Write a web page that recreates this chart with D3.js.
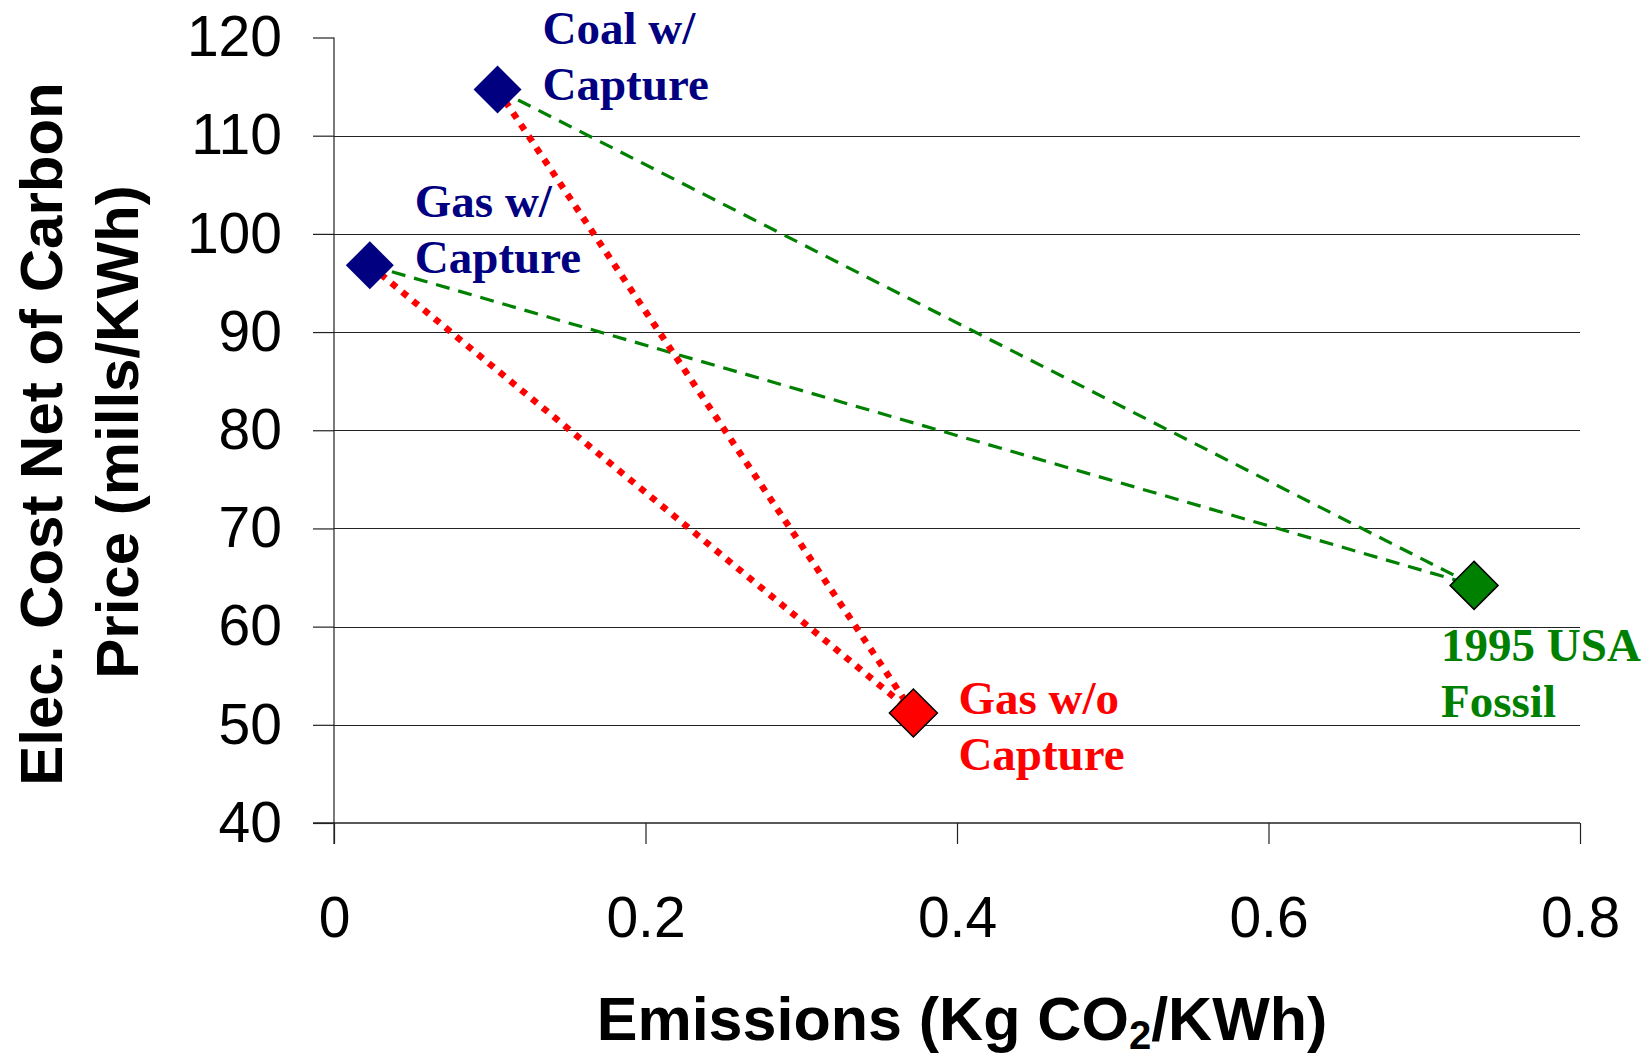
<!DOCTYPE html>
<html>
<head>
<meta charset="utf-8">
<script src="https://cdn.jsdelivr.net/npm/d3@7"></script>
<style>
  body { margin: 0; background: #fff; }
  svg { display: block; }
</style>
</head>
<body>
<div id="chart"></div>
<script>
// chart values
var names = ["Coal w/ Capture", "Gas w/ Capture", "Gas w/o Capture", "1995 USA Fossil"];
var emissions = [0.105, 0.023, 0.372, 0.732];   // Kg CO2/KWh
var costs = [114.7, 96.8, 51.2, 64.2];          // mills/KWh
var labelLines = [["Coal w/", "Capture"], ["Gas w/", "Capture"], ["Gas w/o", "Capture"], ["1995 USA", "Fossil"]];
var fills = ["#000080", "#000080", "#ff0000", "#008000"];
// red dotted links and green dashed links (index pairs)
var redLinks = [[1, 2], [0, 2]];
var greenLinks = [[0, 3], [1, 3]];
var xTicks = [0, 0.2, 0.4, 0.6, 0.8];
var yTicks = [40, 50, 60, 70, 80, 90, 100, 110, 120];

var svgWidth = 1652;
var svgHeight = 1060;

var svg = d3.select("#chart")
    .append("svg")
    .attr("width", svgWidth)
    .attr("height", svgHeight);

var x = d3.scaleLinear().domain([0, 0.8]).range([334, 1580]);
var y = d3.scaleLinear().domain([40, 120]).range([823, 37.5]);

// gridlines
svg.append("g")
    .selectAll("line")
    .data(yTicks.filter(d => d > 40 && d < 120))
    .enter()
    .append("line")
    .attr("x1", x(0))
    .attr("x2", x(0.8))
    .attr("y1", d => Math.round(y(d)) + 0.5)
    .attr("y2", d => Math.round(y(d)) + 0.5)
    .attr("stroke", "#222")
    .attr("stroke-width", 1.2);

// axes
var leftAxis = d3.axisLeft(y).tickValues(yTicks).tickSize(21).tickPadding(31).tickFormat(d3.format("d"));
var bottomAxis = d3.axisBottom(x).tickValues(xTicks).tickSize(21).tickPadding(53).tickFormat(d => d === 0 ? "0" : d3.format(".1f")(d));

var gy = svg.append("g")
    .attr("transform", `translate(${x(0)},0)`)
    .call(leftAxis);
var gx = svg.append("g")
    .attr("transform", `translate(0,${y(40)})`)
    .call(bottomAxis);

[gx, gy].forEach(g => {
    g.select(".domain").remove();
    g.selectAll(".tick line").attr("stroke", "#222").attr("stroke-width", 1.2);
    g.selectAll("text")
        .attr("fill", "#000")
        .style("font-family", "Liberation Sans, Arial, sans-serif")
        .style("font-size", "57px");
});

// axis lines
svg.append("line")
    .attr("x1", x(0)).attr("x2", x(0))
    .attr("y1", y(120)).attr("y2", y(40) + 21)
    .attr("stroke", "#222").attr("stroke-width", 1.2);
svg.append("line")
    .attr("x1", x(0) - 21).attr("x2", x(0.8))
    .attr("y1", y(40)).attr("y2", y(40))
    .attr("stroke", "#222").attr("stroke-width", 1.5);

// connecting lines
svg.append("g")
    .selectAll("line")
    .data(greenLinks)
    .enter()
    .append("line")
    .attr("x1", d => x(emissions[d[0]]))
    .attr("y1", d => y(costs[d[0]]))
    .attr("x2", d => x(emissions[d[1]]))
    .attr("y2", d => y(costs[d[1]]))
    .attr("stroke", "#008000")
    .attr("stroke-width", 3.2)
    .attr("stroke-dasharray", "14,9");

svg.append("g")
    .selectAll("line")
    .data(redLinks)
    .enter()
    .append("line")
    .attr("x1", d => x(emissions[d[0]]))
    .attr("y1", d => y(costs[d[0]]))
    .attr("x2", d => x(emissions[d[1]]))
    .attr("y2", d => y(costs[d[1]]))
    .attr("stroke", "#ff0000")
    .attr("stroke-width", 6.5)
    .attr("stroke-dasharray", "6.5,7.5");

// diamond markers
var r = 24;
svg.append("g")
    .selectAll("path")
    .data(names)
    .enter()
    .append("path")
    .attr("d", `M0,${-r}L${r},0L0,${r}L${-r},0Z`)
    .attr("transform", (d, i) => `translate(${x(emissions[i])},${y(costs[i])})`)
    .attr("fill", (d, i) => fills[i])
    .attr("stroke", (d, i) => i < 2 ? fills[i] : "#000")
    .attr("stroke-width", (d, i) => i < 2 ? 0 : 1.5);

// point labels
var labelOffsets = [[45, -46], [45, -48], [45, 1], [-33, 76]];
labelLines.forEach((lines, i) => {
    var t = svg.append("text")
        .attr("x", x(emissions[i]) + labelOffsets[i][0])
        .attr("y", y(costs[i]) + labelOffsets[i][1])
        .attr("fill", fills[i])
        .style("font-family", "Liberation Serif, Times New Roman, serif")
        .style("font-weight", "bold")
        .style("font-size", "47px");
    lines.forEach((s, j) => {
        t.append("tspan")
            .attr("x", x(emissions[i]) + labelOffsets[i][0])
            .attr("dy", j === 0 ? 0 : 56)
            .text(s);
    });
});

// axis titles
var xTitle = svg.append("text")
    .attr("x", 962)
    .attr("y", 1040)
    .attr("text-anchor", "middle")
    .style("font-family", "Liberation Sans, Arial, sans-serif")
    .style("font-weight", "bold")
    .style("font-size", "61px");
xTitle.append("tspan").text("Emissions (Kg CO");
xTitle.append("tspan").attr("dy", 9).style("font-size", "40px").text("2");
xTitle.append("tspan").attr("dy", -9).text("/KWh)");

svg.append("text")
    .attr("transform", "translate(62,434) rotate(-90)")
    .attr("text-anchor", "middle")
    .style("font-family", "Liberation Sans, Arial, sans-serif")
    .style("font-weight", "bold")
    .style("font-size", "60px")
    .text("Elec. Cost Net of Carbon");
svg.append("text")
    .attr("transform", "translate(138,432) rotate(-90)")
    .attr("text-anchor", "middle")
    .style("font-family", "Liberation Sans, Arial, sans-serif")
    .style("font-weight", "bold")
    .style("font-size", "60px")
    .text("Price (mills/KWh)");
</script>
</body>
</html>
